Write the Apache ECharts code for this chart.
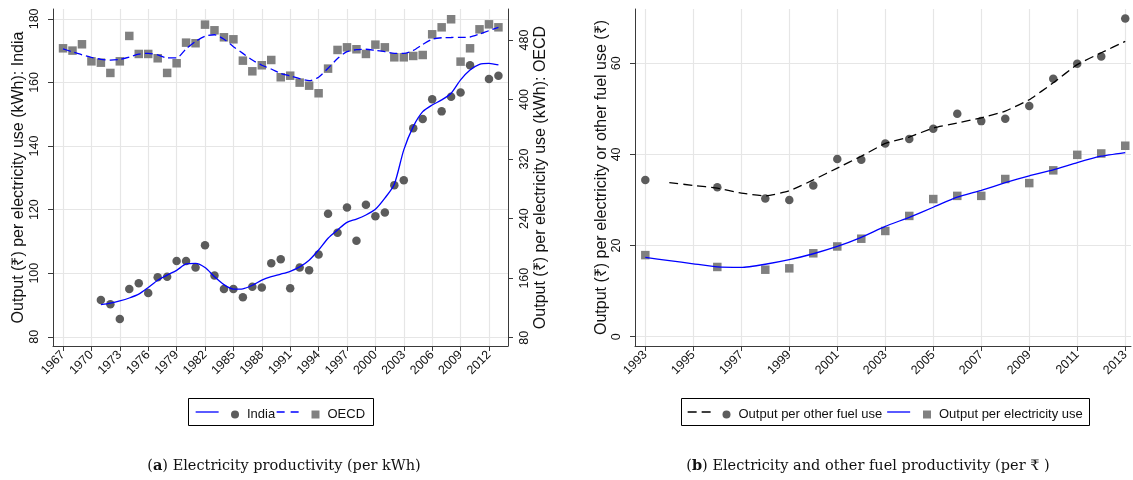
<!DOCTYPE html>
<html>
<head>
<meta charset="utf-8">
<script src="https://cdn.jsdelivr.net/npm/echarts@6/dist/echarts.min.js"></script>
<style>
html,body{margin:0;padding:0;background:#fff;}
#chart{width:1133px;height:480px;}
</style>
</head>
<body>
<div id="chart"></div>
<script>
// ---------- Panel (a) data ----------
const indiaYears = [1971,1972,1973,1974,1975,1976,1977,1978,1979,1980,1981,1982,1983,1984,1985,1986,1987,1988,1989,1990,1991,1992,1993,1994,1995,1996,1997,1998,1999,2000,2001,2002,2003,2004,2005,2006,2007,2008,2009,2010,2012,2013];
const indiaValues = [91.6,90.2,85.6,95.0,96.8,93.8,98.7,98.9,103.8,103.8,101.8,108.8,99.3,95.0,95.0,92.4,95.7,95.5,103.1,104.4,95.3,101.8,100.9,105.9,118.7,112.7,120.7,110.2,121.5,117.9,119.1,127.7,129.2,145.6,148.5,154.7,150.9,155.5,156.8,165.4,161.1,162.1];
const indiaFitYears = [1971,1972,1973,1974,1975,1976,1977,1978,1979,1980,1981,1982,1983,1984,1985,1986,1987,1988,1989,1990,1991,1992,1993,1994,1995,1996,1997,1998,1999,2000,2001,2002,2003,2004,2005,2006,2007,2008,2009,2010,2011,2012,2013];
const indiaFit = [90.1,90.6,91.3,92.2,93.4,95.5,97.8,99.4,100.9,102.9,103.1,101.8,98.9,96.4,95.0,95.1,96.2,97.8,98.9,99.7,100.6,102.0,104.1,107.3,111.0,113.6,116.0,117.0,118.3,120.1,123.6,128.0,138.8,146.1,150.8,152.9,154.5,156.6,160.8,163.9,165.7,166.0,165.5];
const oecdYears = [1967,1968,1969,1970,1971,1972,1973,1974,1975,1976,1977,1978,1979,1980,1981,1982,1983,1984,1985,1986,1987,1988,1989,1990,1991,1992,1993,1994,1995,1996,1997,1998,1999,2000,2001,2002,2003,2004,2005,2006,2007,2008,2009,2010,2011,2012,2013];
const oecdValues = [468.8,465.7,474.2,451.3,449.5,435.7,451.3,485.4,461.2,461.2,455.4,435.7,448.7,476.4,475.6,500.6,493.0,483.6,480.9,452.2,437.9,446.0,453.1,429.9,432.0,422.7,418.6,408.4,441.5,466.6,470.1,467.5,461.2,473.7,470.1,456.7,456.7,458.5,459.8,487.6,497.0,507.8,450.9,468.8,494.3,501.0,497.0];
const oecdFit = [468,464,460,456.7,454,453,454,457,461,462,460,456,456,468,478,485,487,481,471,462,453,446,441,435,431.6,428,425.3,430,442,455,464.3,467,467.5,466,464.3,462,462,466,474,481,483,483.3,483.5,484,488,492.5,497];
const xTicksA = [1967,1970,1973,1976,1979,1982,1985,1988,1991,1994,1997,2000,2003,2006,2009,2012];
const yTicksIndia = [80,100,120,140,160,180];
const yTicksOECD = [80,160,240,320,400,480];

// ---------- Panel (b) data ----------
const pointYearsB = [1993,1996,1998,1999,2000,2001,2002,2003,2004,2005,2006,2007,2008,2009,2010,2011,2012,2013];
const fuelValues = [34.4,32.8,30.3,30.0,33.2,39.0,38.8,42.4,43.4,45.6,48.9,47.3,47.8,50.6,56.6,59.9,61.5,69.8];
const elecValues = [17.9,15.3,14.7,15.0,18.3,19.8,21.5,23.2,26.5,30.2,30.9,30.9,34.6,33.7,36.5,39.9,40.2,41.9];
const fuelFitYears = [1994,1995,1996,1997,1998,1999,2000,2001,2002,2003,2004,2005,2006,2007,2008,2009,2010,2011,2012,2013];
const fuelFit = [33.8,33.2,32.6,31.5,30.9,32.0,34.4,37.0,39.6,42.4,43.8,45.8,46.9,48.0,49.5,52.0,55.7,59.7,62.3,64.8];
const elecFitYears = [1993,1994,1995,1996,1997,1998,1999,2000,2001,2002,2003,2004,2005,2006,2007,2008,2009,2010,2011,2012,2013];
const elecFit = [17.4,16.7,16.0,15.3,15.2,15.9,16.9,18.2,19.8,21.8,24.2,26.2,28.4,30.6,32.1,33.8,35.3,36.6,38.2,39.6,40.4];
const xTicksB = [1993,1995,1997,1999,2001,2003,2005,2007,2009,2011,2013];
const yTicksB = [0,20,40,60];

const zip = (xs, ys) => xs.map((x, i) => [x, ys[i]]);

const SANS = '"Liberation Sans", Arial, Helvetica, sans-serif';
const SERIF = '"DejaVu Serif", "Liberation Serif", serif';
const AXC = '#3a3a3a';
const GRIDC = '#e6e6e6';
const TXT = '#111';

function xAxisDef(grid, min, max, ticks) {
  return {
    type: 'value', gridIndex: grid, min: min, max: max,
    axisLine: { show: true, onZero: false, lineStyle: { color: AXC, width: 1 } },
    axisTick: { show: true, length: 5, customValues: ticks, lineStyle: { color: AXC } },
    axisLabel: { customValues: ticks, rotate: 45, fontSize: 12.5, color: TXT, fontFamily: SANS, margin: 7, formatter: v => String(v) },
    splitLine: { show: true, lineStyle: { color: GRIDC, width: 1.2 } }
  };
}
function yAxisDef(grid, pos, min, max, ticks, name, gap, split, margin) {
  return {
    type: 'value', gridIndex: grid, position: pos, min: min, max: max,
    name: name, nameLocation: 'middle', nameGap: gap,
    nameTextStyle: { fontSize: 16, color: TXT, fontFamily: SANS },
    axisLine: { show: true, onZero: false, lineStyle: { color: AXC, width: 1 } },
    axisTick: { show: true, length: 5, customValues: ticks, lineStyle: { color: AXC } },
    axisLabel: { customValues: ticks, rotate: 90, fontSize: 12.5, color: TXT, fontFamily: SANS, margin: margin, formatter: v => String(v) },
    splitLine: { show: split, lineStyle: { color: GRIDC, width: 1.2 } }
  };
}

const CIRC = '#5c5c5c';
const SQR = '#808080';
const BLUE = '#0000ff';

function legendItem(name, left, opts) {
  return Object.assign({
    data: [name], left: left, top: 408, padding: 0, itemGap: 0,
    itemWidth: 8, itemHeight: 8, selectedMode: false,
    textStyle: { fontSize: 13, color: TXT, fontFamily: SANS, padding: [0, 0, 0, 3] }
  }, opts || {});
}
function legendLine(name, left, color, dash) {
  return legendItem(name, left, {
    itemWidth: 23, formatter: () => '', textStyle: { fontSize: 1 },
    itemStyle: { opacity: 0 },
    lineStyle: { color: color, width: 1.3, type: dash, opacity: 1 }
  });
}

const option = {
  animation: false,
  backgroundColor: '#ffffff',
  grid: [
    { left: 53, top: 9, width: 455, height: 337 },
    { left: 635, top: 9, width: 496, height: 337 }
  ],
  xAxis: [
    xAxisDef(0, 1965.94, 2014.01, xTicksA),
    xAxisDef(1, 1992.57, 2013.24, xTicksB)
  ],
  yAxis: [
    yAxisDef(0, 'left', 77.1, 183.1, yTicksIndia, 'Output (₹) per electricity use (kWh): India', 26, true, 12),
    yAxisDef(0, 'right', 68.85, 521.6, yTicksOECD, 'Output (₹) per electricity use (kWh): OECD', 25, false, 10),
    yAxisDef(1, 'left', -2.04, 71.9, yTicksB, 'Output (₹) per electricity or other fuel use (₹)', 25, true, 12)
  ],
  legend: [
    legendLine('India fit', 195, BLUE, 'solid'),
    legendItem('India', 231),
    legendLine('OECD fit', 276, BLUE, [8, 6]),
    legendItem('OECD', 311.5),
    legendLine('Other fuel fit', 687, '#000', [9, 5]),
    legendItem('Output per other fuel use', 722.5),
    legendLine('Electricity fit', 886.5, BLUE, 'solid'),
    legendItem('Output per electricity use', 923)
  ],
  series: [
    { name: 'India', type: 'scatter', xAxisIndex: 0, yAxisIndex: 0, symbol: 'circle', symbolSize: 8.5,
      itemStyle: { color: CIRC, opacity: 1 }, data: zip(indiaYears, indiaValues), z: 2 },
    { name: 'OECD', type: 'scatter', xAxisIndex: 0, yAxisIndex: 1, symbol: 'rect', symbolSize: 8.5,
      itemStyle: { color: SQR, opacity: 1 }, data: zip(oecdYears, oecdValues), z: 2 },
    { name: 'India fit', type: 'line', xAxisIndex: 0, yAxisIndex: 0, symbol: 'none', smooth: 0.25,
      lineStyle: { color: BLUE, width: 1.3, type: 'solid' }, itemStyle: { color: BLUE },
      data: zip(indiaFitYears, indiaFit), z: 3 },
    { name: 'OECD fit', type: 'line', xAxisIndex: 0, yAxisIndex: 1, symbol: 'none', smooth: 0.25,
      lineStyle: { color: BLUE, width: 1.3, type: [8, 4] }, itemStyle: { color: BLUE },
      data: zip(oecdYears, oecdFit), z: 3 },
    { name: 'Output per other fuel use', type: 'scatter', xAxisIndex: 1, yAxisIndex: 2, symbol: 'circle', symbolSize: 8.5,
      itemStyle: { color: CIRC, opacity: 1 }, data: zip(pointYearsB, fuelValues), z: 2 },
    { name: 'Output per electricity use', type: 'scatter', xAxisIndex: 1, yAxisIndex: 2, symbol: 'rect', symbolSize: 8.5,
      itemStyle: { color: SQR, opacity: 1 }, data: zip(pointYearsB, elecValues), z: 2 },
    { name: 'Other fuel fit', type: 'line', xAxisIndex: 1, yAxisIndex: 2, symbol: 'none', smooth: 0.15,
      lineStyle: { color: '#000', width: 1.3, type: [9, 5] }, itemStyle: { color: '#000' },
      data: zip(fuelFitYears, fuelFit), z: 3 },
    { name: 'Electricity fit', type: 'line', xAxisIndex: 1, yAxisIndex: 2, symbol: 'none', smooth: 0.15,
      lineStyle: { color: BLUE, width: 1.3, type: 'solid' }, itemStyle: { color: BLUE },
      data: zip(elecFitYears, elecFit), z: 3 }
  ],
  graphic: [
    { type: 'rect', shape: { x: 188.5, y: 398.5, width: 185, height: 27 }, style: { fill: 'none', stroke: '#000', lineWidth: 1 }, silent: true },
    { type: 'rect', shape: { x: 681.5, y: 398.5, width: 408, height: 27 }, style: { fill: 'none', stroke: '#000', lineWidth: 1 }, silent: true },
    { type: 'text', x: 284, y: 466, silent: true,
      style: { text: '({b|a}) Electricity productivity (per kWh)', align: 'center', verticalAlign: 'middle',
        font: '14.5px ' + SERIF, fill: '#111',
        rich: { b: { fontWeight: 'bold', fontSize: 14.5, fontFamily: SERIF, fill: '#111' } } } },
    { type: 'text', x: 868, y: 466, silent: true,
      style: { text: '({b|b}) Electricity and other fuel productivity (per ₹ )', align: 'center', verticalAlign: 'middle',
        font: '14.5px ' + SERIF, fill: '#111',
        rich: { b: { fontWeight: 'bold', fontSize: 14.5, fontFamily: SERIF, fill: '#111' } } } }
  ]
};

const chart = echarts.init(document.getElementById('chart'), null, { renderer: 'canvas' });
chart.setOption(option);
</script>
</body>
</html>
